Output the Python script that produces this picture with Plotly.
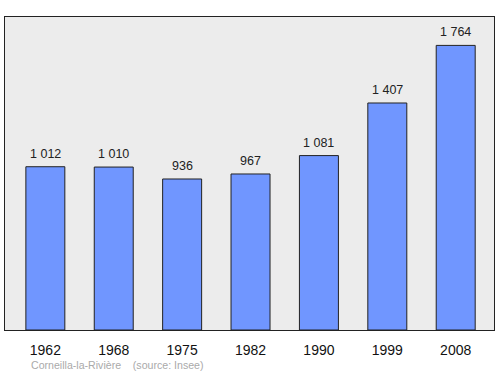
import plotly.graph_objects as go

years = ["1962", "1968", "1975", "1982", "1990", "1999", "2008"]
population = [1012, 1010, 936, 967, 1081, 1407, 1764]
labels = ["1 012", "1 010", "936", "967", "1 081", "1 407", "1 764"]

fig = go.Figure()
fig.add_trace(go.Bar(
    x=list(range(len(years))), y=population,
    width=0.57,
    marker=dict(color="#7096ff", line=dict(color="#222222", width=1)),
    hoverinfo="skip",
))
for i, (v, t) in enumerate(zip(population, labels)):
    fig.add_annotation(x=i, y=v, text=t, showarrow=False, yanchor="bottom",
                       yshift=4, font=dict(size=12.5, color="#222222"))

fig.add_annotation(xref="paper", yref="paper", x=(29 - 5) / 489, y=-0.112,
                   xanchor="left", yanchor="middle", showarrow=False,
                   text="Corneilla-la-Rivière    (source: Insee)",
                   font=dict(size=10.6, color="#aaaaaa"))

fig.update_layout(
    width=500, height=374,
    margin=dict(l=5, r=6, t=17, b=44),
    paper_bgcolor="white", plot_bgcolor="#ececec",
    font=dict(family="Liberation Sans, Arial, sans-serif", color="#222222"),
    showlegend=False,
    xaxis=dict(range=[-0.59, 6.56], tickvals=list(range(len(years))), ticktext=years,
               showgrid=False, zeroline=False, showline=True, linecolor="#222222",
               linewidth=1, mirror=True, ticks="", ticklabelstandoff=7,
               tickfont=dict(size=14, color="#111111")),
    yaxis=dict(range=[0, 1940], showgrid=False, zeroline=False, showticklabels=False,
               showline=True, linecolor="#222222", linewidth=1, mirror=True, ticks=""),
)
fig.write_html("out.html")
